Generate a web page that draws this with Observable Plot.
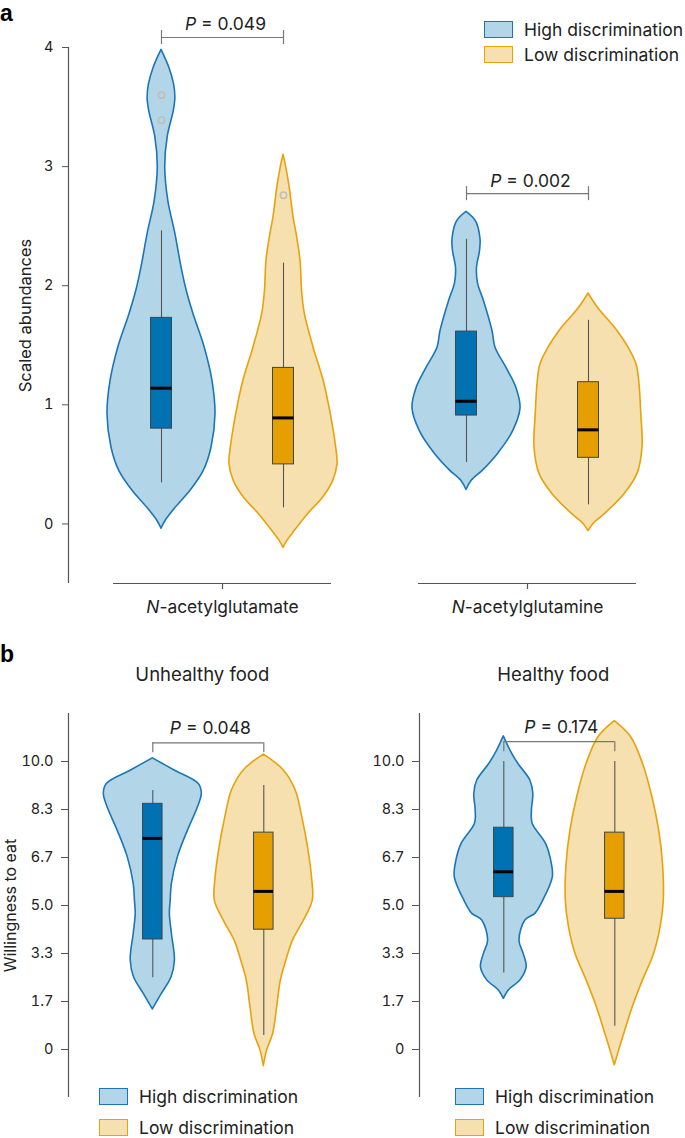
<!DOCTYPE html>
<html><head><meta charset="utf-8">
<script src="https://cdn.jsdelivr.net/npm/d3@7"></script>
<script src="https://cdn.jsdelivr.net/npm/@observablehq/plot@0.6"></script>
<style>
body{margin:0;background:#fff;}
#page{position:relative;width:685px;height:1138px;overflow:hidden;font-family:Inter,"Noto Sans",sans-serif;color:#222;}
#page svg{position:absolute;overflow:visible;}
.letter{position:absolute;font-family:"Liberation Sans",Arial,sans-serif;font-weight:bold;font-size:23px;line-height:23px;color:#000;}
.leg{position:absolute;display:flex;align-items:center;font-size:17.5px;white-space:nowrap;height:18px;}
.sw{box-sizing:border-box;width:29px;height:17px;border:1.6px solid;margin-right:11px;}
</style></head><body><div id="page"></div>
<script>
// ---------------- DATA ----------------
const metabolites = ["N-acetylglutamate", "N-acetylglutamine"];
const foods = ["Unhealthy food", "Healthy food"];
const groups = ["High discrimination", "Low discrimination"];

// violin profiles: [value, density (relative half-width)]
const violinHighGlutamate = [[-0.04,0],[0.025,4],[0.135,14],[0.28,29],[0.445,42],[0.64,49.7],[0.92,53.7],[1.2,50.7],[1.48,43],[1.765,31.7],[1.96,25],[2.15,20],[2.44,13.7],[2.71,6.8],[3.0,3.7],[3.25,6.2],[3.47,12.3],[3.58,13.8],[3.69,12.5],[3.83,7.8],[3.98,0]];
const violinLowGlutamate = [[-0.2,0],[-0.14,4],[-0.06,11],[0.08,24],[0.22,39],[0.36,49],[0.5,53.3],[0.64,52],[0.92,46.7],[1.2,39.7],[1.48,29.7],[1.765,21],[1.96,18.3],[2.21,16.8],[2.44,12.8],[2.57,10],[2.83,6],[2.99,2.8],[3.10,0]];
const violinHighGlutamine = [[0.285,0],[0.36,5],[0.45,16.7],[0.59,31.7],[0.78,46.7],[0.97,54],[1.14,50],[1.31,40],[1.48,29],[1.62,26],[1.87,17.5],[2.02,11.5],[2.15,10.5],[2.29,13.5],[2.39,14],[2.54,9.5],[2.62,0]];
const violinLowGlutamine = [[-0.06,0],[0.0,5],[0.08,16],[0.25,36],[0.42,49],[0.64,54],[0.92,52.8],[1.2,50.7],[1.34,48],[1.48,40],[1.62,29],[1.82,9],[1.935,0]];

const violinHighUnhealthy = [[1.39,0],[1.93,9],[2.51,18.7],[3.09,22],[4.02,19],[4.71,17],[5.17,17.8],[5.75,19],[6.68,25],[7.6,35],[8.41,45],[8.88,48.8],[9.22,45.8],[9.69,21.7],[10.11,0]];
const violinLowUnhealthy = [[-0.58,0],[-0.03,3.3],[0.54,9.3],[1.47,13.3],[2.40,17],[3.09,22.5],[3.78,29],[4.48,40],[5.17,48.8],[5.87,48.3],[7.03,44],[8.07,38.3],[9.0,31.7],[9.69,20],[10.24,0]];
const violinHighHealthy = [[1.76,0],[2.05,5],[2.40,16.7],[2.86,23],[3.32,20],[3.78,15.8],[4.48,21.7],[4.71,31.7],[5.17,39.7],[5.98,49.3],[6.45,48.3],[7.14,42.5],[7.84,29],[8.30,28.3],[8.88,29.7],[9.34,26.7],[9.92,14.5],[10.38,6.7],[10.87,0]];
const violinLowHealthy = [[-0.55,0],[-0.03,4.3],[0.54,9.2],[1.47,17.5],[2.40,27.5],[3.32,38.3],[4.25,44.7],[5.17,47.8],[6.45,47],[7.60,43.3],[8.76,36.7],[9.92,27.5],[10.85,15.8],[11.40,0]];

// box stats: [lower whisker, Q1, median, Q3, upper whisker]
const boxHighGlutamate = [0.345, 0.80, 1.14, 1.73, 2.46];
const boxLowGlutamate = [0.135, 0.50, 0.89, 1.31, 2.19];
const boxHighGlutamine = [0.515, 0.91, 1.03, 1.615, 2.39];
const boxLowGlutamine = [0.16, 0.555, 0.79, 1.19, 1.71];
const boxHighUnhealthy = [2.49, 3.82, 7.33, 8.53, 8.99];
const boxLowUnhealthy = [0.49, 4.16, 5.49, 7.53, 9.17];
const boxHighHealthy = [2.66, 5.29, 6.17, 7.70, 10.0];
const boxLowHealthy = [0.81, 4.54, 5.49, 7.53, 10.0];

const outliersHighGlutamate = [3.39, 3.60];
const outliersLowGlutamate = [2.76];
const outliersHighGlutamine = [];
const outliersLowGlutamine = [];

const pValuesA = ["0.049", "0.002"];
const bracketLevelsA = [4.084, 2.773];
const pValuesB = ["0.048", "0.174"];
const bracketLevelsB = [10.65, 10.69];

const yTicksA = [0, 1, 2, 3, 4];
const yTickLabelsA = ["0", "1", "2", "3", "4"];
const yTicksB = [0, 10/6, 20/6, 5, 40/6, 50/6, 10];
const yTickLabelsB = ["0", "1.7", "3.3", "5.0", "6.7", "8.3", "10.0"];
const yLabelA = "Scaled abundances";
const yLabelB = "Willingness to eat";

// ---------------- STYLE ----------------
const FONT = "Inter, 'Noto Sans', sans-serif";
const FILL = ["#b3d5e8", "#f6e0b0"];
const STROKE = ["#1a76b6", "#e9a10c"];
const BOX = ["#0072b2", "#e69f00"];
const AXIS = "#555";
const CURVE = "catmull-rom";

const page = document.getElementById("page");

function violinMarks(specs, HALF, BOXHALF) {
  const marks = [];
  for (const sp of specs) {
    const mx = d3.max(sp.profile, d => d[1]);
    const rows = sp.profile.map(([v, d]) => ({v, x1: sp.pos - d / mx * HALF, x2: sp.pos + d / mx * HALF}));
    marks.push(Plot.areaX(rows, {y: "v", x1: "x1", x2: "x2", fill: FILL[sp.s], stroke: STROKE[sp.s], strokeWidth: 1.6, curve: CURVE}));
    marks.push(Plot.ruleX([sp], {x: "pos", y1: d => d.stats[0], y2: d => d.stats[4], stroke: "#555", strokeWidth: 1.1}));
    marks.push(Plot.rect([sp], {x1: d => d.pos - BOXHALF, x2: d => d.pos + BOXHALF, y1: d => d.stats[1], y2: d => d.stats[3], fill: BOX[sp.s], stroke: "#3b4750", strokeWidth: 1}));
    marks.push(Plot.ruleY([sp], {y: d => d.stats[2], x1: d => d.pos - BOXHALF, x2: d => d.pos + BOXHALF, stroke: "#000", strokeWidth: 3}));
    if (sp.outliers.length) marks.push(Plot.dot(sp.outliers.map(v => ({v, x: sp.pos})), {x: "x", y: "v", r: 3.2, stroke: "#bdbdbd", strokeWidth: 1.5, fill: "none"}));
  }
  return marks;
}

function italicize(svg) {
  svg.querySelectorAll("text").forEach(t => {
    const s = t.textContent;
    let m = null;
    if (s.startsWith("P = ")) m = ["P", s.slice(1)];
    else if (s.startsWith("N-")) m = ["N", s.slice(1)];
    if (!m) return;
    while (t.firstChild) t.removeChild(t.firstChild);
    const a = document.createElementNS("http://www.w3.org/2000/svg", "tspan");
    a.setAttribute("font-style", "italic"); a.textContent = m[0];
    const b = document.createElementNS("http://www.w3.org/2000/svg", "tspan");
    b.textContent = m[1];
    t.appendChild(a); t.appendChild(b);
  });
}

// ---------------- PANEL A ----------------
{
  const unit = 122, ml = 68, W = 685;
  const xmin = -(161 - ml) / unit;
  const gap = 2.5;
  const violins = [
    {profile: violinHighGlutamate, stats: boxHighGlutamate, outliers: outliersHighGlutamate, s: 0, g: 0},
    {profile: violinLowGlutamate, stats: boxLowGlutamate, outliers: outliersLowGlutamate, s: 1, g: 0},
    {profile: violinHighGlutamine, stats: boxHighGlutamine, outliers: outliersHighGlutamine, s: 0, g: 1},
    {profile: violinLowGlutamine, stats: boxLowGlutamine, outliers: outliersLowGlutamine, s: 1, g: 1}
  ].map(d => ({...d, pos: d.g * gap + d.s}));
  const groupRows = metabolites.map((name, g) => ({name, c: g * gap + 0.5, y: -0.5}));
  const brackets = pValuesA.map((p, g) => ({p, level: bracketLevelsA[g], x1: g * gap, x2: g * gap + 1, c: g * gap + 0.5}));
  const bracketEnds = brackets.flatMap(b => [{x: b.x1, level: b.level}, {x: b.x2, level: b.level}]);
  const svg = Plot.plot({
    width: W, height: 625,
    marginLeft: ml, marginRight: 0, marginTop: 47, marginBottom: 42,
    x: {domain: [xmin, xmin + (W - ml) / unit], axis: null},
    y: {domain: [-0.5, 4], axis: null},
    style: {fontFamily: FONT, fontSize: "14px", color: "#222", background: "none"},
    marks: [
      Plot.ruleX([xmin], {y1: -0.5, y2: 4, stroke: AXIS, strokeWidth: 1.2}),
      Plot.axisY({ticks: yTicksA, tickFormat: (d, i) => yTickLabelsA[i], tickSize: 6, tickPadding: 9, label: null, fontSize: 14.5, stroke: AXIS}),
      Plot.text([yLabelA], {frameAnchor: "left", textAnchor: "middle", rotate: -90, dx: -43, fontSize: 16.5, fill: "#222"}),
      Plot.ruleY(groupRows, {y: "y", x1: d => d.c - 0.893, x2: d => d.c + 0.893, stroke: AXIS, strokeWidth: 1.2}),
      Plot.ruleX(groupRows, {x: "c", y1: "y", y2: "y", insetBottom: -6, stroke: AXIS, strokeWidth: 1.2}),
      Plot.text(groupRows, {x: "c", y: "y", text: "name", lineAnchor: "top", dy: 17, fontSize: 17.4, fill: "#222"}),
      ...violinMarks(violins, 54 / unit, 10.5 / unit),
      Plot.ruleY(brackets, {y: "level", x1: "x1", x2: "x2", stroke: "#777", strokeWidth: 1.2}),
      Plot.ruleX(bracketEnds, {x: "x", y1: "level", y2: "level", insetTop: -7, insetBottom: -7, stroke: "#777", strokeWidth: 1.2}),
      Plot.text(brackets, {x: "c", y: "level", text: d => "P = " + d.p, lineAnchor: "bottom", dx: 3, dy: -7, fontSize: 17.5, fill: "#222"})
    ]
  });
  svg.style.left = "0px"; svg.style.top = "0px";
  italicize(svg);
  page.appendChild(svg);
}

// ---------------- PANEL B ----------------
const specsB = [
  [
    {profile: violinHighUnhealthy, stats: boxHighUnhealthy, outliers: [], s: 0},
    {profile: violinLowUnhealthy, stats: boxLowUnhealthy, outliers: [], s: 1}
  ],
  [
    {profile: violinHighHealthy, stats: boxHighHealthy, outliers: [], s: 0},
    {profile: violinLowHealthy, stats: boxLowHealthy, outliers: [], s: 1}
  ]
];
const panelBLeft = [0, 351];
const panelBWidth = [351, 334];
foods.forEach((food, g) => {
  const unit = 111, ml = 68, W = panelBWidth[g];
  const xmin = -(152.3 - ml) / unit;
  const violins = specsB[g].map(d => ({...d, pos: d.s}));
  const bracket = [{p: pValuesB[g], level: bracketLevelsB[g], x1: 0, x2: 1, c: 0.5}];
  const ends = [{x: 0, level: bracketLevelsB[g]}, {x: 1, level: bracketLevelsB[g]}];
  const marks = [
    Plot.ruleX([xmin], {y1: -10/6, y2: 70/6, stroke: AXIS, strokeWidth: 1.2}),
    Plot.axisY({ticks: yTicksB, tickFormat: (d, i) => yTickLabelsB[i], tickSize: 7, tickPadding: 8, label: null, fontSize: 14.5, stroke: AXIS}),
    Plot.text([food], {frameAnchor: "top", x: 0.5, dx: -6, lineAnchor: "bottom", dy: -33, fontSize: 18.5, fill: "#222"}),
    ...violinMarks(violins, 49 / unit, 9.75 / unit),
    Plot.ruleY(bracket, {y: "level", x1: "x1", x2: "x2", stroke: "#777", strokeWidth: 1.2}),
    Plot.ruleX(ends, {x: "x", y1: "level", y2: "level", insetBottom: -10, stroke: "#777", strokeWidth: 1.2}),
    Plot.text(bracket, {x: "c", y: "level", text: d => "P = " + d.p, lineAnchor: "bottom", dx: 2, dy: -9, fontSize: 17.5, fill: "#222"})
  ];
  if (g === 0) marks.push(Plot.text([yLabelB], {frameAnchor: "left", textAnchor: "middle", rotate: -90, dx: -58, fontSize: 16, fill: "#222"}));
  const svg = Plot.plot({
    width: W, height: 470,
    marginLeft: ml, marginRight: 0, marginTop: 83, marginBottom: 3,
    x: {domain: [xmin, xmin + (W - ml) / unit], axis: null},
    y: {domain: [-10/6, 70/6], axis: null},
    style: {fontFamily: FONT, fontSize: "14px", color: "#222", background: "none"},
    marks
  });
  svg.style.left = panelBLeft[g] + "px"; svg.style.top = "630px";
  italicize(svg);
  page.appendChild(svg);
});

// ---------------- LETTERS & LEGENDS ----------------
function letter(txt, top) {
  const d = document.createElement("div");
  d.className = "letter"; d.textContent = txt; d.style.left = "0px"; d.style.top = top + "px";
  page.appendChild(d);
}
letter("a", 2); letter("b", 643);

function legend(left, tops) {
  groups.forEach((name, i) => {
    const d = document.createElement("div");
    d.className = "leg"; d.style.left = left + "px"; d.style.top = tops[i] + "px";
    const sw = document.createElement("span");
    sw.className = "sw"; sw.style.background = FILL[i]; sw.style.borderColor = STROKE[i];
    const t = document.createElement("span"); t.textContent = name;
    d.appendChild(sw); d.appendChild(t);
    page.appendChild(d);
  });
}
legend(484, [20, 45]);
legend(99, [1087, 1118]);
legend(455, [1087, 1118]);
</script></body></html>
